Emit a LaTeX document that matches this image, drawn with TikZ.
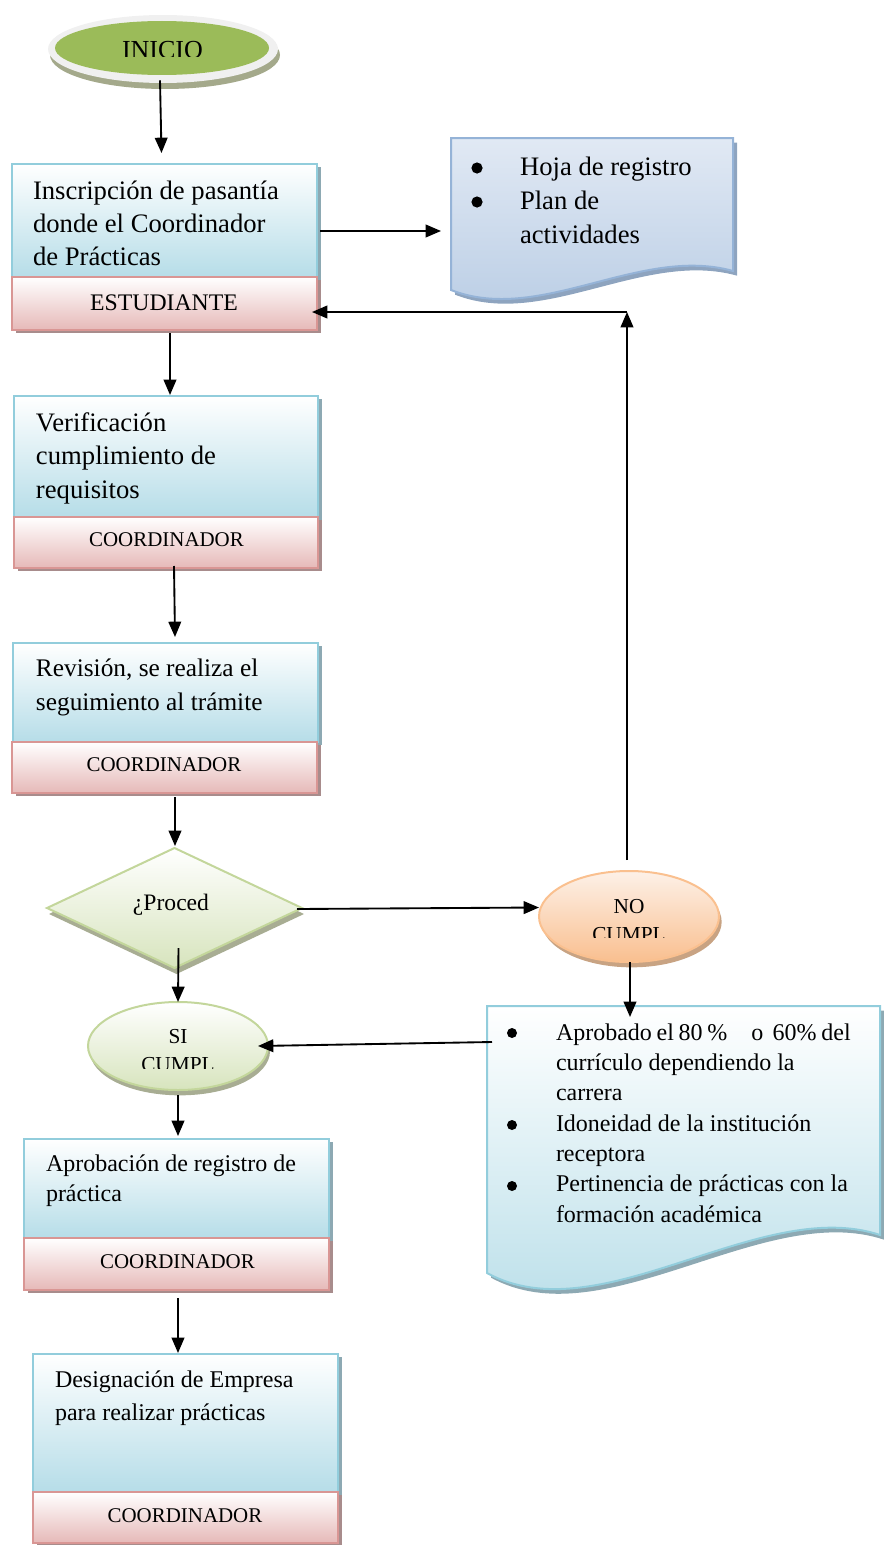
\documentclass[tikz,border=0pt]{standalone}
\usepackage{fontspec}
\setmainfont{Liberation Serif}
\usetikzlibrary{shapes.geometric,shadows,arrows.meta,calc}
\def\pxu{0.75pt}
\newcommand\setfs[2]{\fontsize{#1}{#2}\selectfont}
\newcommand\tline[1]{\hbox{#1}}
\definecolor{bxborder}{HTML}{92CDDC}
\definecolor{bxfill}{HTML}{B6DDE8}
\definecolor{bxshadow}{HTML}{8DA9B3}
\definecolor{bdborder}{HTML}{D99694}
\definecolor{bdfill}{HTML}{E6B9B8}
\definecolor{bdshadow}{HTML}{A88C8C}
\definecolor{ringgrey}{HTML}{F0F0F0}
\definecolor{inishadow}{HTML}{A4A98B}
\definecolor{inigreen}{HTML}{9BBB59}
\definecolor{grborder}{HTML}{C3D69B}
\definecolor{grfill}{HTML}{D7E4BD}
\definecolor{grshadow}{HTML}{A8AD93}
\definecolor{orborder}{HTML}{FAC08F}
\definecolor{ortop}{HTML}{FDF1E8}
\definecolor{orfill}{HTML}{F9BF8F}
\definecolor{orshadow}{HTML}{C8A383}
\definecolor{dAtop}{HTML}{E1E9F4}
\definecolor{dAfill}{HTML}{B8CCE4}
\definecolor{dAborder}{HTML}{95B3D7}
\definecolor{dAshadow}{HTML}{8EA4BF}
\begin{document}
\begin{tikzpicture}[x=0.75pt,y=-0.75pt,
  bluebox/.style={rectangle, inner sep=0pt, outer sep=0pt, draw=bxborder, line width=1.5pt,
    top color=white, bottom color=bxfill,
    drop shadow={shadow xshift=3pt, shadow yshift=-2.5pt, fill=bxshadow, opacity=1}},
  redband/.style={rectangle, inner sep=0pt, outer sep=0pt, draw=bdborder, line width=1.5pt,
    top color=white, bottom color=bdfill,
    drop shadow={shadow xshift=3pt, shadow yshift=-2.5pt, fill=bdshadow, opacity=1}},
  txt/.style={anchor=base west, inner sep=0pt, outer sep=0pt},
  lab/.style={anchor=base, inner sep=0pt, outer sep=0pt, font=\setfs{15.7}{18}},
  arr/.style={-{Triangle[length=11.5pt,width=9.5pt]}, line width=1.4pt, black},
  bulletdot/.style={fill=black},
  docA/.style={draw=dAborder, line width=1.5pt, top color=dAtop, bottom color=dAfill,
    drop shadow={shadow xshift=3pt, shadow yshift=-3.5pt, fill=dAshadow, opacity=1}},
  docB/.style={draw=bxborder, line width=1.5pt, top color=white, bottom color=bxfill,
    drop shadow={shadow xshift=3pt, shadow yshift=-3.5pt, fill=bxshadow, opacity=1}},
  greenell/.style={ellipse, inner sep=0pt, outer sep=0pt, draw=grborder, line width=1.5pt,
    top color=white, bottom color=grfill,
    drop shadow={shadow xshift=1.5pt, shadow yshift=-4pt, fill=grshadow, opacity=1}},
]
\useasboundingbox (0,0) rectangle (884,1545);

% ---------- INICIO ----------
\node[ellipse, inner sep=0pt, minimum width=230*\pxu, minimum height=68*\pxu, fill=ringgrey,
  drop shadow={shadow xshift=1.5pt, shadow yshift=-4.5pt, fill=inishadow, opacity=1}] (inicio) at (163,49) {};
\node[ellipse, inner sep=0pt, minimum width=214*\pxu, minimum height=54*\pxu, fill=inigreen] (inicioin) at (162,48) {};
\begin{scope}
  \clip (100,30) rectangle (230,57);
  \node[anchor=base, inner sep=0pt, font=\setfs{19.5}{22}] (tinicio) at (162.5,59) {INICIO};
\end{scope}

% ---------- Box 1 ----------
\node[bluebox, minimum width=305*\pxu, minimum height=113*\pxu] (box1) at (164.5,220.5) {};
\node[redband, minimum width=305*\pxu, minimum height=53*\pxu] (band1) at (164.5,303.5) {};
\node[txt, font=\setfs{20}{25}] (t1) at (33,199) {\vtop{\tline{Inscripción de pasantía}\tline{donde el Coordinador}\tline{de Prácticas}}};
\node[anchor=base, inner sep=0pt, font=\setfs{17.8}{20}] (l1) at (164,310) {ESTUDIANTE};

% ---------- Document 1 ----------
\path[docA] (451,138) -- (733,138) -- (733,271) .. controls (640,245) and (540,325) .. (451,290) -- cycle;
\coordinate (doc1w) at (451,231);
\fill[bulletdot] (477,168) circle[radius=5.6];
\fill[bulletdot] (477,202) circle[radius=5.6];
\node[txt, font=\setfs{20}{25.5}] (d1) at (520,175) {\vtop{\tline{Hoja de registro}\tline{Plan de}\tline{actividades}}};

% ---------- Box 2 ----------
\node[bluebox, minimum width=304*\pxu, minimum height=121*\pxu] (box2) at (166,456.5) {};
\node[redband, minimum width=304*\pxu, minimum height=51*\pxu] (band2) at (166,542.5) {};
\node[txt, font=\setfs{20}{24.9}] (t2) at (36,431.7) {\vtop{\tline{Verificación}\tline{cumplimiento de}\tline{requisitos}}};
\node[lab] (l2) at (166.5,546) {COORDINADOR};

% ---------- Box 3 ----------
\node[bluebox, minimum width=305*\pxu, minimum height=99*\pxu] (box3) at (165.5,692.5) {};
\node[redband, minimum width=305*\pxu, minimum height=51*\pxu] (band3) at (164.5,767.5) {};
\node[txt, font=\setfs{19}{25}] (t3) at (36,676.7) {\vtop{\tline{Revisión, se realiza el}\tline{seguimiento al trámite}}};
\node[lab] (l3) at (164,771.7) {COORDINADOR};

% ---------- Decision ----------
\node[diamond, inner sep=0pt, outer sep=0pt, minimum width=255*\pxu, minimum height=120*\pxu,
  draw=grborder, line width=1.5pt, top color=white, bottom color=grfill,
  drop shadow={shadow xshift=1.5pt, shadow yshift=-4.5pt, fill=grshadow, opacity=1}] (dec) at (174.5,908) {};
\node[anchor=base, inner sep=0pt, font=\setfs{17.7}{20}] (tdec) at (171,910) {¿Proced};

% ---------- NO CUMPL ----------
\node[ellipse, inner sep=0pt, outer sep=0pt, minimum width=180*\pxu, minimum height=91*\pxu,
  draw=orborder, line width=1.5pt, top color=ortop, bottom color=orfill,
  drop shadow={shadow xshift=2pt, shadow yshift=-4pt, fill=orshadow, opacity=1}] (no) at (629,916.5) {};
\node[anchor=base, inner sep=0pt, font=\setfs{16}{18}] (tno) at (629,913) {NO};
\begin{scope}
  \clip (560,915) rectangle (700,937);
  \node[anchor=base, inner sep=0pt, font=\setfs{16}{18}] (tnoc) at (629,941) {CUMPL};
\end{scope}

% ---------- Document 2 ----------
\path[docB] (487,1006) -- (880,1006) -- (880,1235) .. controls (760,1195) and (600,1335) .. (487,1273) -- cycle;
\coordinate (doc2n) at (630,1006);
\coordinate (doc2w) at (487,1042);
\fill[bulletdot] (512,1033) circle[radius=5];
\fill[bulletdot] (512,1125) circle[radius=5];
\fill[bulletdot] (512,1186) circle[radius=5];
\node[txt, font=\setfs{18}{22.75}] (d2) at (556,1040) {\vtop{%
  \tline{\makebox[221pt][s]{Aprobado el 80 \%\quad o\ \ 60\% del}}%
  \tline{currículo dependiendo la}%
  \tline{carrera}%
  \tline{Idoneidad de la institución}%
  \tline{receptora}%
  \tline{Pertinencia de prácticas con la}%
  \tline{formación académica}}};

% ---------- SI CUMPL ----------
\node[greenell, minimum width=180*\pxu, minimum height=88*\pxu] (si) at (178,1046) {};
\node[anchor=base, inner sep=0pt, font=\setfs{16}{18}] (tsi) at (178,1043) {SI};
\begin{scope}
  \clip (110,1048) rectangle (250,1068);
  \node[anchor=base, inner sep=0pt, font=\setfs{16}{18}] (tsic) at (178,1071) {CUMPL};
\end{scope}

% ---------- Box 4 ----------
\node[bluebox, minimum width=305*\pxu, minimum height=99*\pxu] (box4) at (176.5,1188.5) {};
\node[redband, minimum width=305*\pxu, minimum height=52*\pxu] (band4) at (176.5,1264) {};
\node[txt, font=\setfs{18}{22.5}] (t4) at (46,1171.7) {\vtop{\tline{Aprobación de registro de}\tline{práctica}}};
\node[lab] (l4) at (177.5,1268) {COORDINADOR};

% ---------- Box 5 ----------
\node[bluebox, minimum width=305*\pxu, minimum height=138*\pxu] (box5) at (185.5,1423) {};
\node[redband, minimum width=305*\pxu, minimum height=51*\pxu] (band5) at (185.5,1517.5) {};
\node[txt, font=\setfs{18}{24.75}] (t5) at (55,1387) {\vtop{\tline{Designación de Empresa}\tline{para realizar prácticas}}};
\node[lab] (l5) at (185,1522.7) {COORDINADOR};

% ---------- Connectors ----------
\draw[arr] ($(inicio.south)+(-3,-3)$) -- ($(box1.north)+(-3,-11)$);
\draw[arr] ($(box1.east)+(3,10.5)$) -- ($(doc1w)+(-10,0)$);
\draw[arr] ($(band1.south)+(5.5,3)$) -- ($(box2.north)+(4,-1)$);
\draw[arr] ($(band2.south)+(8,-2)$) -- ($(box3.north)+(9.5,-6)$);
\draw[arr] ($(band3.south)+(10.5,4)$) -- ($(dec.north)+(0.5,-2)$);
\draw[arr] ($(dec.east)+(-5,1)$) -- ($(no.west)+(0,-9)$);
\coordinate (junc) at (627,312);
\draw[arr] ($(no.north)+(-2,-11)$) -- (junc);
\draw[arr] (junc) -- ($(band1.east)+(-5,8.5)$);
\draw[arr] ($(no.south)+(1,0)$) -- ($(doc2n)+(0,11)$);
\draw[arr] ($(doc2w)+(5,0)$) -- ($(si.east)+(-10,0)$);
\draw[arr] ($(dec.south)+(4,-20)$) -- (si.north);
\draw[arr] ($(si.south)+(0,5)$) -- ($(box4.north)+(1.5,-3)$);
\draw[arr] ($(band4.south)+(1.5,8)$) -- ($(box5.north)+(-7.5,-1)$);
\end{tikzpicture}
\end{document}
